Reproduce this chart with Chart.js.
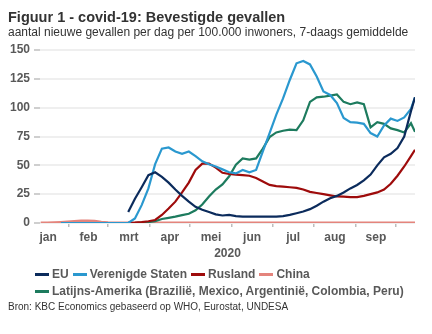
<!DOCTYPE html>
<html>
<head>
<meta charset="utf-8">
<script src="https://cdn.jsdelivr.net/npm/chart.js@4.4.1/dist/chart.umd.min.js"></script>
<style>
  body { margin: 0; background: #fff; }
  #wrap { position: relative; width: 432px; height: 334px; font-family: 'Liberation Sans', Arial, sans-serif; }
  #casesChart { position: absolute; left: 0; top: 0; }
  .txt { position: absolute; white-space: nowrap; }
  .title { left: 8px; top: 8.5px; font-size: 14.5px; line-height: 17px; font-weight: bold; color: #333; }
  .subtitle { left: 8px; top: 25.3px; font-size: 12px; line-height: 14px; color: #333; }
  .source { left: 8px; top: 301px; font-size: 10px; line-height: 12px; color: #333; }
  #legend { position: absolute; left: 35px; top: 265.5px; width: 387px; display: flex; flex-wrap: wrap; column-gap: 4px; }
  .legend_item { display: flex; align-items: center; height: 17px; font-size: 12px; font-weight: bold; color: #595959; white-space: nowrap; }
  .legend_mark { width: 14px; height: 3px; margin-right: 3px; }
</style>
</head>
<body>
<div id="wrap">
  <canvas id="casesChart" width="432" height="334"></canvas>
  <div class="txt title">Figuur 1 - covid-19: Bevestigde gevallen</div>
  <div class="txt subtitle">aantal nieuwe gevallen per dag per 100.000 inwoners, 7-daags gemiddelde</div>
  <div id="legend"></div>
  <div class="txt source">Bron: KBC Economics gebaseerd op WHO, Eurostat, UNDESA</div>
</div>
<script>
// day of year 2020 (0 = 1 januari)
const days = [
  10, 15, 20, 25, 30, 35, 40, 45, 50, 55,
  60, 65, 70, 75, 80, 85, 90, 95, 100, 105,
  110, 115, 120, 125, 130, 135, 140, 145, 150, 155,
  160, 165, 170, 175, 180, 185, 190, 195, 200, 205,
  210, 215, 220, 225, 230, 235, 240, 245, 250, 255,
  260, 265, 270, 275, 280, 285, 288
];

// new cases per day per 100.000 inhabitants, 7-day average
const euCases = [
  null, null, null, null, null, null, null, null, null, null,
  null, null, null, 9.5, 21, 31, 41.5, 44, 40, 35,
  29, 23.5, 18.5, 14, 11.5, 9.5, 7.5, 6.5, 7, 6,
  5.5, 5.5, 5.5, 5.5, 5.5, 5.5, 6, 7, 8.5, 10,
  12, 15, 18.5, 21.5, 23.5, 26.5, 30, 33, 37, 42,
  50, 57, 60, 65, 75, 97, 109
];
const usCases = [
  null, null, null, 0, 0, 0, 0, 0, 0, 0,
  0, 0, 0, 0, 4, 15.5, 30, 51, 64.5, 65.5,
  62, 60, 62, 58, 53.5, 51, 49, 46.5, 44, 43,
  46, 44, 46, 62, 78, 94, 108, 124, 138.5, 140.5,
  137.5, 127, 114, 111, 104, 91, 87.5, 87, 86, 78,
  75, 84.5, 90.5, 88.5, 91.5, 99, 109
];
const ruCases = [
  null, null, null, null, null, null, null, null, null, null,
  null, null, null, 0.2, 0.4, 0.8, 1.5, 2.6, 7, 12.5,
  18.5, 26.5, 35, 46, 51.5, 51.5, 48, 43.5, 42.5, 42,
  41.5, 41, 39, 36, 33, 32, 31.5, 31, 30.5, 29,
  27, 26, 25, 24, 23, 22.8, 22.5, 22.5, 23.5, 25,
  26.5, 29, 34, 41, 49, 58, 63.5
];
const cnCases = [
  0.1, 0.1, 0.3, 0.6, 1, 1.5, 1.9, 2, 1.6, 0.8,
  0.3, 0.1, 0.1, 0.1, 0.1, 0.1, 0.1, 0.1, 0.1, 0.1,
  0.1, 0.1, 0.1, 0.1, 0.1, 0.1, 0.1, 0.1, 0.1, 0.1,
  0.1, 0.1, 0.1, 0.1, 0.1, 0.1, 0.1, 0.1, 0.1, 0.1,
  0.1, 0.1, 0.1, 0.1, 0.1, 0.1, 0.1, 0.1, 0.1, 0.1,
  0.1, 0.1, 0.1, 0.1, 0.1, 0.1, 0.1
];
const latamCases = [
  null, null, null, null, null, null, null, null, null, null,
  null, null, null, null, 0, 0.3, 0.8, 1.5, 3.5, 4.5,
  5.5, 6.8, 8, 11, 16, 23, 29, 33.5, 40.5, 50.5,
  56, 55, 56, 64.5, 74.5, 78.5, 80, 81, 80.5, 89,
  105, 109, 109.5, 110.5, 111.5, 105, 103, 104.5, 103, 83,
  87.5, 86, 82, 80.5, 78.5, 86.5, 79
];

// month boundaries (day of year) and the labels between them
const monthStarts = [0, 31, 60, 91, 121, 152, 182, 213, 244, 274];
const monthLabels = ['jan', 'feb', 'mrt', 'apr', 'mei', 'jun', 'jul', 'aug', 'sep'];
const yearLabel = '2020';
const yTicks = [0, 25, 50, 75, 100, 125, 150];

const xMin = 9.5;
const xMax = 288;

const labelFont = { family: "'Liberation Sans', Arial, sans-serif", size: 12, weight: 'bold' };
const labelColor = '#595959';

const toPoints = (values) => days.map((d, i) => ({ x: d, y: values[i] }));

const datasets = [
  { label: 'EU', data: toPoints(euCases), borderColor: '#0b2b5c', borderWidth: 2.2 },
  { label: 'Verenigde Staten', data: toPoints(usCases), borderColor: '#2a98cf', borderWidth: 2.2 },
  { label: 'Rusland', data: toPoints(ruCases), borderColor: '#9e0b0b', borderWidth: 2.2 },
  { label: 'China', data: toPoints(cnCases), borderColor: '#e4847c', borderWidth: 2.6, order: 1 },
  { label: 'Latijns-Amerika (Brazilië, Mexico, Argentinië, Colombia, Peru)', data: toPoints(latamCases), borderColor: '#1d7b5e', borderWidth: 2.2 }
];

datasets.forEach(ds => {
  ds.backgroundColor = ds.borderColor;
  ds.pointRadius = 0;
  ds.tension = 0;
  ds.fill = false;
});

const midMonths = monthLabels.map((m, i) => (monthStarts[i] + monthStarts[i + 1]) / 2);

const config = {
  type: 'line',
  data: { datasets: datasets },
  options: {
    responsive: false,
    animation: false,
    layout: { padding: { top: 50, left: 6, right: 17, bottom: 74.6 } },
    plugins: {
      legend: { display: false },
      tooltip: { enabled: false }
    },
    scales: {
      // only the small tick marks at the month boundaries
      x: {
        type: 'linear',
        min: xMin,
        max: xMax,
        weight: 0,
        afterBuildTicks: (scale) => {
          scale.ticks = monthStarts.slice(1).map(v => ({ value: v }));
        },
        ticks: { display: false },
        grid: { display: true, drawOnChartArea: false, drawTicks: true, tickLength: 4, tickColor: '#bdbdbd', lineWidth: 1.5 },
        border: { display: false }
      },
      // month names centred in each month, year below
      xMonths: {
        type: 'linear',
        position: 'bottom',
        min: xMin,
        max: xMax,
        weight: 1,
        afterBuildTicks: (scale) => {
          scale.ticks = midMonths.map(v => ({ value: v }));
        },
        ticks: {
          autoSkip: false,
          maxRotation: 0,
          padding: 3,
          font: labelFont,
          color: labelColor,
          callback: (value, index) => monthLabels[index]
        },
        grid: { display: false, drawTicks: false },
        border: { display: false },
        title: { display: true, text: yearLabel, font: { ...labelFont, lineHeight: 1 }, color: labelColor, padding: { top: 0, bottom: 0 } }
      },
      y: {
        min: yTicks[0],
        max: yTicks[yTicks.length - 1],
        afterBuildTicks: (scale) => {
          scale.ticks = yTicks.map(v => ({ value: v }));
        },
        ticks: { padding: 4, font: labelFont, color: labelColor },
        grid: { color: '#efefef', lineWidth: 2, tickColor: '#cfcfcf', tickLength: 6 },
        border: { display: false }
      }
    }
  }
};

const casesChart = new Chart(document.getElementById('casesChart'), config);

// legend in the same order as the datasets
const legendElem = document.getElementById('legend');
datasets.forEach(ds => {
  const itemElem = document.createElement('div');
  itemElem.classList.add('legend_item');

  const markElem = document.createElement('span');
  markElem.classList.add('legend_mark');
  markElem.style.background = ds.borderColor;

  const nameElem = document.createElement('span');
  nameElem.textContent = ds.label;

  itemElem.appendChild(markElem);
  itemElem.appendChild(nameElem);
  legendElem.appendChild(itemElem);
});
</script>
</body>
</html>
